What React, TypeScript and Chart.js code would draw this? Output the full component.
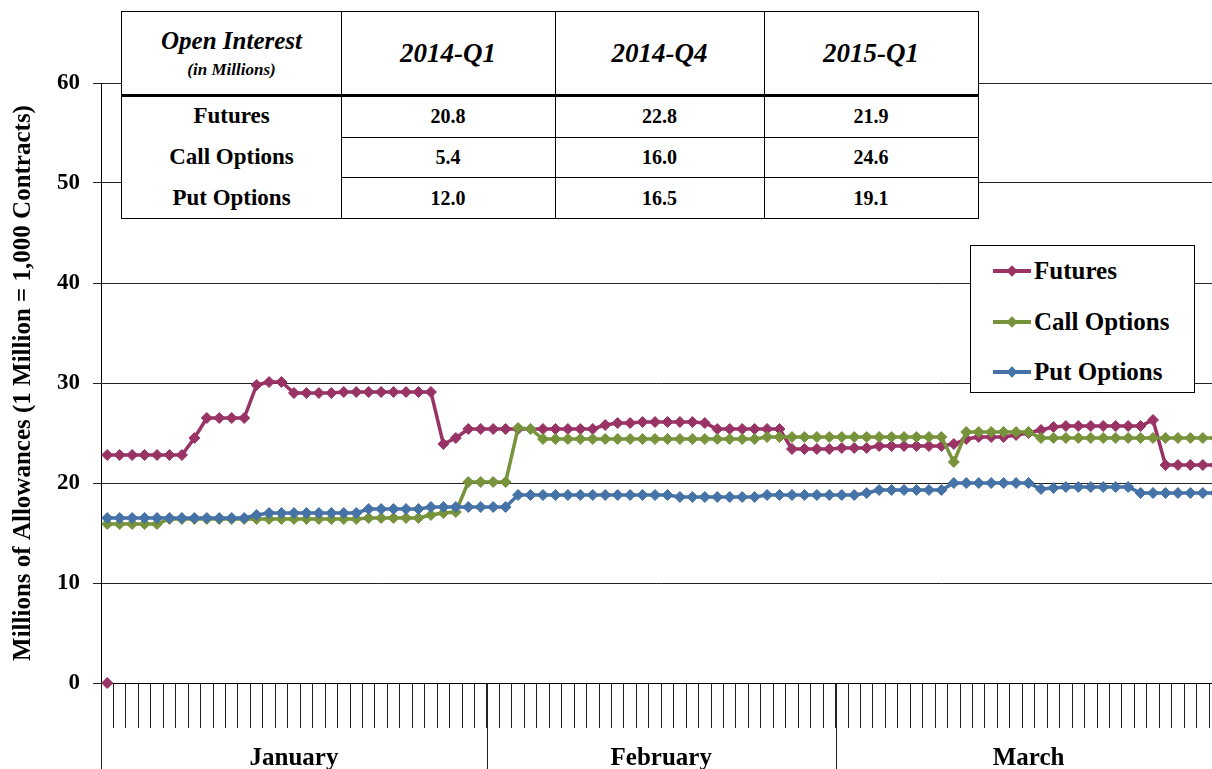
import React, { useEffect, useRef } from 'react';
import { Chart, registerables } from 'chart.js';

Chart.register(...registerables);

const FONT = '"Liberation Serif", "Times New Roman", serif';

// ---------- categories ----------
const monthNames = ['January', 'February', 'March'];
const monthDays = [31, 28, 31];

// ---------- series (millions of allowances, one value per calendar day) ----------
const futures = [
  22.8, 22.8, 22.8, 22.8, 22.8, 22.8, 22.8, 24.5, 26.5, 26.5,
  26.5, 26.5, 29.8, 30.1, 30.1, 29.0, 29.0, 29.0, 29.0, 29.1,
  29.1, 29.1, 29.1, 29.1, 29.1, 29.1, 29.1, 23.9, 24.5, 25.4,
  25.4, 25.4, 25.4, 25.4, 25.4, 25.4, 25.4, 25.4, 25.4, 25.4,
  25.8, 26.0, 26.0, 26.1, 26.1, 26.1, 26.1, 26.1, 26.0, 25.4,
  25.4, 25.4, 25.4, 25.4, 25.4, 23.4, 23.4, 23.4, 23.4, 23.5,
  23.5, 23.5, 23.7, 23.7, 23.7, 23.7, 23.7, 23.7, 23.9, 24.4,
  24.6, 24.6, 24.6, 24.8, 25.0, 25.3, 25.6, 25.7, 25.7, 25.7,
  25.7, 25.7, 25.7, 25.7, 26.3, 21.8, 21.8, 21.8, 21.8, 21.8,
];
const callOptions = [
  15.9, 15.9, 15.9, 15.9, 15.9, 16.4, 16.4, 16.4, 16.4, 16.4,
  16.4, 16.4, 16.4, 16.4, 16.4, 16.4, 16.4, 16.4, 16.4, 16.4,
  16.4, 16.5, 16.5, 16.5, 16.5, 16.5, 16.8, 17.0, 17.1, 20.1,
  20.1, 20.1, 20.1, 25.5, 25.4, 24.4, 24.4, 24.4, 24.4, 24.4,
  24.4, 24.4, 24.4, 24.4, 24.4, 24.4, 24.4, 24.4, 24.4, 24.4,
  24.4, 24.4, 24.4, 24.6, 24.6, 24.6, 24.6, 24.6, 24.6, 24.6,
  24.6, 24.6, 24.6, 24.6, 24.6, 24.6, 24.6, 24.6, 22.1, 25.1,
  25.1, 25.1, 25.1, 25.1, 25.1, 24.5, 24.5, 24.5, 24.5, 24.5,
  24.5, 24.5, 24.5, 24.5, 24.5, 24.5, 24.5, 24.5, 24.5, 24.5,
];
const putOptions = [
  16.5, 16.5, 16.5, 16.5, 16.5, 16.5, 16.5, 16.5, 16.5, 16.5,
  16.5, 16.5, 16.8, 17.0, 17.0, 17.0, 17.0, 17.0, 17.0, 17.0,
  17.0, 17.4, 17.4, 17.4, 17.4, 17.4, 17.6, 17.6, 17.6, 17.6,
  17.6, 17.6, 17.6, 18.8, 18.8, 18.8, 18.8, 18.8, 18.8, 18.8,
  18.8, 18.8, 18.8, 18.8, 18.8, 18.8, 18.6, 18.6, 18.6, 18.6,
  18.6, 18.6, 18.6, 18.8, 18.8, 18.8, 18.8, 18.8, 18.8, 18.8,
  18.8, 19.0, 19.3, 19.3, 19.3, 19.3, 19.3, 19.3, 20.0, 20.0,
  20.0, 20.0, 20.0, 20.0, 20.0, 19.4, 19.5, 19.6, 19.6, 19.6,
  19.6, 19.6, 19.6, 19.0, 19.0, 19.0, 19.0, 19.0, 19.0, 19.0,
];
// stray futures marker plotted at zero on the first day
const futuresZeroPoint = [0];

// ---------- y axis ----------
const yMin = 0;
const yMax = 60;
const yStep = 10;
const yTitle = 'Millions of Allowances (1 Million = 1,000 Contracts)';

// ---------- overlay table ----------
const tableCorner = 'Open Interest';
const tableCornerSub = '(in Millions)';
const tableQuarters = ['2014-Q1', '2014-Q4', '2015-Q1'];
const tableRowNames = ['Futures', 'Call Options', 'Put Options'];
const tableFutures = ['20.8', '22.8', '21.9'];
const tableCall = ['5.4', '16.0', '24.6'];
const tablePut = ['12.0', '16.5', '19.1'];

const seriesNames = ['Futures', 'Call Options', 'Put Options'];
const COLORS = ['#993366', '#77933C', '#4572A7'];

const labels: string[] = [];
monthNames.forEach((m, mi) => {
  for (let d = 1; d <= monthDays[mi]; d++) labels.push(`${m.slice(0, 3)} ${d}`);
});

const monthAxisPlugin = {
  id: 'monthAxis',
  afterDraw(chart: any) {
    const xs = chart.scales.x;
    const ctx = chart.ctx;
    const step = xs.getPixelForValue(1) - xs.getPixelForValue(0);
    const bounds = [0];
    let acc = 0;
    monthDays.forEach((d) => {
      acc += d;
      bounds.push(acc);
    });
    const edge = (i: number) => xs.getPixelForValue(i) - step / 2;
    ctx.save();
    ctx.strokeStyle = '#222';
    ctx.lineWidth = 1;
    bounds.forEach((b) => {
      const px = Math.round(edge(b)) + 0.5;
      ctx.beginPath();
      ctx.moveTo(px, xs.top);
      ctx.lineTo(px, chart.height);
      ctx.stroke();
    });
    ctx.fillStyle = '#000';
    ctx.font = `bold 25px ${FONT}`;
    ctx.textAlign = 'center';
    ctx.textBaseline = 'middle';
    monthNames.forEach((m, i) => {
      const cx = (edge(bounds[i]) + edge(bounds[i + 1])) / 2;
      ctx.fillText(m, cx, xs.top + 76);
    });
    ctx.restore();
  },
};

function ChartCanvas() {
  const ref = useRef<HTMLCanvasElement | null>(null);
  useEffect(() => {
    if (!ref.current) return;
    Chart.defaults.font.family = FONT;
    const mk = (label: string, data: number[], color: string, order: number) => ({
      label,
      data,
      borderColor: color,
      backgroundColor: color,
      borderWidth: 3.5,
      pointStyle: 'rectRot',
      pointRadius: 5.5,
      pointBorderWidth: 1,
      pointBackgroundColor: color,
      pointBorderColor: color,
      tension: 0,
      order,
    });
    const chart = new Chart(ref.current, {
      type: 'line',
      data: {
        labels,
        datasets: [
          mk(seriesNames[0], futures, COLORS[0], 3) as any,
          mk(seriesNames[1], callOptions, COLORS[1], 2) as any,
          mk(seriesNames[2], putOptions, COLORS[2], 1) as any,
          {
            ...mk('Futures start', futuresZeroPoint, COLORS[0], 4),
            showLine: false,
            clip: false,
          } as any,
        ],
      },
      options: {
        animation: false,
        responsive: false,
        maintainAspectRatio: false,
        layout: { padding: { top: 83, right: 8.5, bottom: 0, left: 0 } },
        plugins: {
          legend: { display: false },
          tooltip: { enabled: false },
          title: { display: false },
        },
        scales: {
          x: {
            type: 'category',
            offset: true,
            grid: {
              offset: true,
              drawOnChartArea: false,
              tickLength: 45,
              color: '#222',
              lineWidth: 1,
            },
            border: { color: '#000', width: 1 },
            ticks: { autoSkip: false, maxRotation: 0, padding: 0, callback: () => '' },
            afterFit: (s: any) => {
              s.height = 107;
            },
          },
          y: {
            min: yMin,
            max: yMax,
            ticks: {
              stepSize: yStep,
              color: '#000',
              padding: 13,
              font: { family: FONT, size: 23, weight: 'bold' },
            },
            grid: { color: '#222', lineWidth: 1, tickLength: 8 },
            border: { color: '#000', width: 1 },
            title: {
              display: true,
              text: yTitle,
              color: '#000',
              font: { family: FONT, size: 25, weight: 'bold' },
              padding: { top: 9, bottom: 0 },
            },
            afterFit: (s: any) => {
              s.width = 101;
            },
          },
        },
      } as any,
      plugins: [monthAxisPlugin],
    });
    return () => chart.destroy();
  }, []);
  return (
    <canvas
      ref={ref}
      width={1230}
      height={790}
      style={{ position: 'absolute', left: 0, top: 0, width: 1230, height: 790 }}
    />
  );
}

function DataTable() {
  const colX = [0, 219, 433, 642, 856];
  const rowY = [0, 83, 125, 165, 206];
  const rows = [tableFutures, tableCall, tablePut];
  const cell = (r: number, c: number, content: React.ReactNode, key: string) => (
    <div
      key={key}
      style={{
        position: 'absolute',
        left: colX[c],
        top: rowY[r],
        width: colX[c + 1] - colX[c],
        height: rowY[r + 1] - rowY[r],
        display: 'flex',
        flexDirection: 'column',
        alignItems: 'center',
        justifyContent: 'center',
        textAlign: 'center',
        lineHeight: 1.1,
      }}
    >
      {content}
    </div>
  );
  const items: React.ReactNode[] = [];
  items.push(
    cell(
      0,
      0,
      <>
        <span style={{ fontSize: 25, fontWeight: 'bold', fontStyle: 'italic' }}>{tableCorner}</span>
        <span style={{ fontSize: 17, fontWeight: 'bold', fontStyle: 'italic', marginTop: 7 }}>
          {tableCornerSub}
        </span>
      </>,
      'corner'
    )
  );
  tableQuarters.forEach((q, i) =>
    items.push(
      cell(0, i + 1, <span style={{ fontSize: 27, fontWeight: 'bold', fontStyle: 'italic' }}>{q}</span>, 'q' + i)
    )
  );
  tableRowNames.forEach((n, r) => {
    items.push(cell(r + 1, 0, <span style={{ fontSize: 23, fontWeight: 'bold' }}>{n}</span>, 'n' + r));
    rows[r].forEach((v, c) =>
      items.push(cell(r + 1, c + 1, <span style={{ fontSize: 20, fontWeight: 'bold' }}>{v}</span>, `v${r}${c}`))
    );
  });
  const lines: React.ReactNode[] = [];
  [1, 2, 3].forEach((c) =>
    lines.push(
      <div key={'vl' + c} style={{ position: 'absolute', left: colX[c], top: 0, width: 1, height: rowY[4], background: '#000' }} />
    )
  );
  lines.push(
    <div key="hh" style={{ position: 'absolute', left: 0, top: rowY[1] - 1, width: colX[4], height: 3, background: '#000' }} />
  );
  [2, 3].forEach((r) =>
    lines.push(
      <div key={'hl' + r} style={{ position: 'absolute', left: colX[1], top: rowY[r], width: colX[4] - colX[1], height: 1, background: '#000' }} />
    )
  );
  return (
    <div
      style={{
        position: 'absolute',
        left: 122,
        top: 12,
        width: 856,
        height: 206,
        background: '#fff',
        outline: '1px solid #000',
        fontFamily: FONT,
        color: '#000',
      }}
    >
      {items}
      {lines}
    </div>
  );
}

function Legend() {
  const rowsY = [25, 76, 126];
  return (
    <div
      style={{
        position: 'absolute',
        left: 970,
        top: 245,
        width: 225,
        height: 148,
        boxSizing: 'border-box',
        border: '1px solid #000',
        background: '#fff',
        fontFamily: FONT,
      }}
    >
      {seriesNames.map((n, i) => (
        <div key={n}>
          <div
            style={{ position: 'absolute', left: 22, top: rowsY[i] - 2, width: 38, height: 4, background: COLORS[i] }}
          />
          <div
            style={{
              position: 'absolute',
              left: 37,
              top: rowsY[i] - 4,
              width: 8,
              height: 8,
              background: COLORS[i],
              transform: 'rotate(45deg)',
            }}
          />
          <div
            style={{
              position: 'absolute',
              left: 63,
              top: rowsY[i] - 15,
              height: 30,
              lineHeight: '30px',
              fontSize: 25,
              fontWeight: 'bold',
              color: '#000',
              whiteSpace: 'nowrap',
            }}
          >
            {n}
          </div>
        </div>
      ))}
    </div>
  );
}

export default function App() {
  return (
    <div
      style={{
        position: 'fixed',
        left: 0,
        top: 0,
        width: 1212,
        height: 769,
        overflow: 'hidden',
        background: '#fff',
      }}
    >
      <ChartCanvas />
      <DataTable />
      <Legend />
    </div>
  );
}
